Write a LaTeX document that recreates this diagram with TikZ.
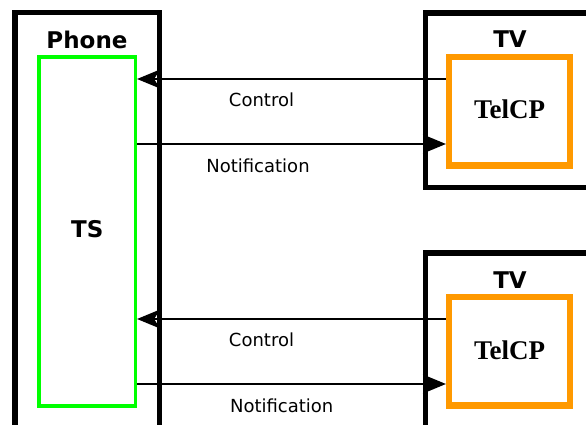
\documentclass[tikz,border=0pt]{standalone}
\usepackage{fontspec}
\setmainfont{DejaVu Sans}
\newfontfamily\serifbold{Liberation Serif}
\usetikzlibrary{arrows.meta}
\tikzset{
  blackbox/.style={draw=black, line width=5.5pt, fill=none},
  greenbox/.style={draw=green!100!black, line width=3.6pt},
  orangebox/.style={draw={rgb,255:red,255;green,153;blue,0}, line width=6.2pt},
  bigtitle/.style={anchor=base, font=\fontsize{23}{23}\selectfont\bfseries, inner sep=0pt},
  cptext/.style={anchor=base, font=\fontsize{27}{27}\selectfont\serifbold\bfseries, inner sep=0pt},
  msglabel/.style={anchor=base, font=\fontsize{18}{18}\selectfont, inner sep=0pt},
  msg/.style={line width=1.7pt, -{Stealth[length=23pt, width=19pt, inset=6pt]}}
}
\begin{document}
\begin{tikzpicture}[x=1pt, y=-1pt]
\useasboundingbox (0,0) rectangle (586,425);
\clip (0,0) rectangle (586,425);
\fill[white] (0,0) rectangle (586,425);
% outer boxes
\node[blackbox, minimum width=144.7pt, minimum height=447.5pt, inner sep=0pt] (phone) at (87.15,236.25) {};
\node[blackbox, minimum width=194.7pt, minimum height=174.7pt, inner sep=0pt] (tv1) at (522.65,100.15) {};
\node[blackbox, minimum width=194.7pt, minimum height=207.2pt, inner sep=0pt] (tv2) at (522.65,356.4) {};
% inner boxes
\node[greenbox, minimum width=96.3pt, minimum height=349pt, inner sep=0pt] (ts) at (87.15,231.5) {};
\node[orangebox, minimum width=120.7pt, minimum height=108.5pt, inner sep=0pt] (cp1) at (509.35,111.25) {};
\node[orangebox, minimum width=120.7pt, minimum height=108.5pt, inner sep=0pt] (cp2) at (509.35,351.25) {};
% titles
\node[bigtitle] (phonelbl) at (87,48.3) {Phone};
\node[bigtitle] (tslbl) at (87.2,237.3) {TS};
\node[bigtitle] (tv1lbl) at (510,48) {TV};
\node[bigtitle] (tv2lbl) at (510,288) {TV};
\node[cptext] (cp1lbl) at (509.5,119) {TelCP};
\node[cptext] (cp2lbl) at (509.5,359) {TelCP};
% messages
\draw[msg] ([yshift=32.25pt]cp1.west) -- ([yshift=32.25pt]ts.east |- cp1.west);
\draw[msg] ([yshift=-32.75pt]ts.east |- cp1.west) -- ([yshift=-32.75pt]cp1.west);
\draw[msg] ([yshift=32.25pt]cp2.west) -- ([yshift=32.25pt]ts.east |- cp2.west);
\draw[msg] ([yshift=-32.75pt]ts.east |- cp2.west) -- ([yshift=-32.75pt]cp2.west);
\node[msglabel] (c1) at (261.5,106.5) {Control};
\node[msglabel] (n1) at (258,172.3) {Notification};
\node[msglabel] (c2) at (261.5,346.7) {Control};
\node[msglabel] (n2) at (281.7,412.7) {Notification};
\end{tikzpicture}
\end{document}
